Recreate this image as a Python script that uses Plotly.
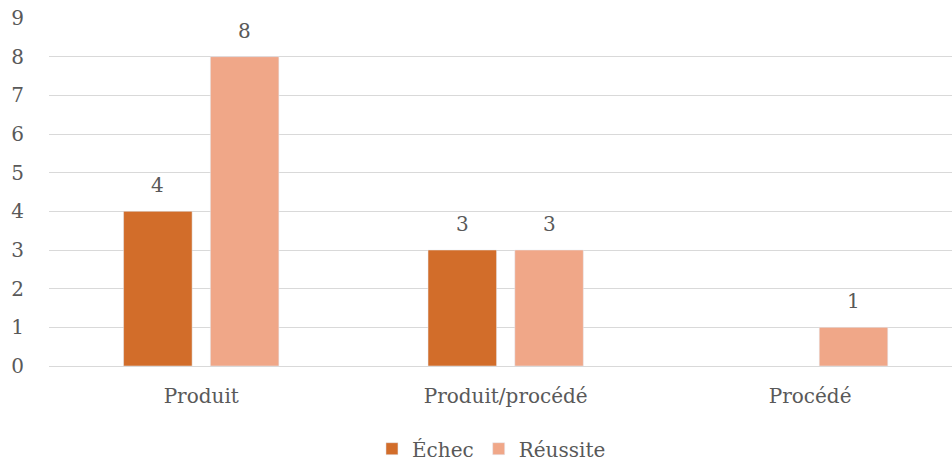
import plotly.graph_objects as go

categories = ["Produit", "Produit/procédé", "Procédé"]
echec = [4, 3, None]
reussite = [8, 3, 1]
y_ticks = list(range(0, 10))

FONT = "DejaVu Serif"
TEXT_COLOR = "#595959"
SIZE = 20

# plot geometry
WIDTH, HEIGHT = 952, 463
MARGIN_L, MARGIN_R = 49, 0
X_RANGE = [-0.5, 2.466]
BARGAP, BARGROUPGAP = 0.43, 0.21

fig = go.Figure()
fig.add_trace(go.Bar(name="Échec", x=categories, y=echec, marker_color="#D26D2A"))
fig.add_trace(go.Bar(name="Réussite", x=categories, y=reussite, marker_color="#F0A788"))

# value labels above each bar, shifted to the bar's slot within its group
plot_w = WIDTH - MARGIN_L - MARGIN_R
cat_px = plot_w / (X_RANGE[1] - X_RANGE[0])
slot_px = (1 - BARGAP) * cat_px / 2
for series, shift in ((echec, -slot_px / 2), (reussite, slot_px / 2)):
    for cat, val in zip(categories, series):
        if val is None:
            continue
        fig.add_annotation(
            x=cat, y=val, text=str(val), showarrow=False,
            xanchor="center", yanchor="bottom", xshift=shift, yshift=12,
            font=dict(family=FONT, size=SIZE, color=TEXT_COLOR),
        )

fig.update_layout(
    width=WIDTH, height=HEIGHT,
    margin=dict(l=MARGIN_L, r=MARGIN_R, t=18, b=97),
    plot_bgcolor="white", paper_bgcolor="white",
    barmode="group", bargap=BARGAP, bargroupgap=BARGROUPGAP,
    font=dict(family=FONT, size=SIZE, color=TEXT_COLOR),
    showlegend=True,
    legend=dict(orientation="h", x=0.49, xanchor="center",
                yref="container", y=0.073, yanchor="top",
                font=dict(family=FONT, size=SIZE, color=TEXT_COLOR),
                itemwidth=30, traceorder="normal"),
)
fig.update_xaxes(range=X_RANGE, showgrid=False, showline=False, ticks="",
                 ticklabelstandoff=16, automargin=False,
                 tickfont=dict(family=FONT, size=SIZE, color=TEXT_COLOR))
fig.update_yaxes(range=[0, 9], tickvals=y_ticks, showgrid=True, gridcolor="#D9D9D9",
                 gridwidth=1, zeroline=True, zerolinecolor="#D9D9D9", zerolinewidth=1,
                 ticks="", ticklabelstandoff=24, automargin=False,
                 tickfont=dict(family=FONT, size=SIZE, color=TEXT_COLOR))

fig.write_html("out.html")
